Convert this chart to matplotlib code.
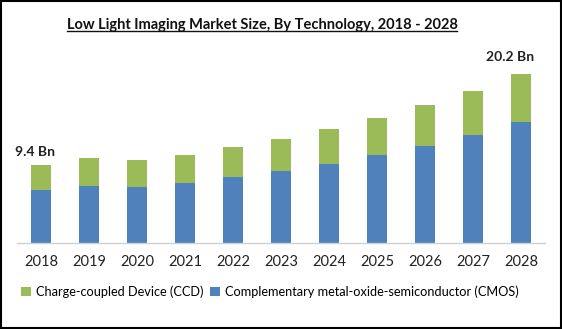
import matplotlib
matplotlib.use("Agg")
import matplotlib.pyplot as plt
from matplotlib.patches import Rectangle
from matplotlib.lines import Line2D

years = ["2018", "2019", "2020", "2021", "2022", "2023", "2024", "2025", "2026", "2027", "2028"]
cmos = [6.3, 6.8, 6.7, 7.2, 7.9, 8.6, 9.5, 10.5, 11.6, 12.9, 14.5]
ccd = [3.1, 3.4, 3.2, 3.3, 3.6, 3.9, 4.2, 4.5, 4.9, 5.3, 5.7]
labels = {0: "9.4 Bn", 10: "20.2 Bn"}

green = "#9BBB59"
blue = "#4F81BD"
plt.rcParams['font.family'] = ['Lato', 'DejaVu Sans']

fig = plt.figure(figsize=(5.62, 3.29), dpi=100)
ax = fig.add_axes([17 / 562, 86 / 329, 528 / 562, 193 / 329])

x = range(len(years))
ax.bar(x, cmos, width=0.4, color=blue, label="Complementary metal-oxide-semiconductor (CMOS)", zorder=2)
ax.bar(x, ccd, width=0.4, bottom=cmos, color=green, label="Charge-coupled Device (CCD)", zorder=2)

ax.set_xlim(-0.5, len(years) - 0.5)
ax.set_ylim(0, 193 / 8.35)
ax.set_xticks(list(x))
ax.set_xticklabels(years, fontsize=10.5, color="#222222")
ax.tick_params(axis="x", length=0, pad=9)
ax.set_yticks([])
for s in ["top", "right", "left"]:
    ax.spines[s].set_visible(False)
ax.spines["bottom"].set_color("#d0d0d0")
ax.spines["bottom"].set_linewidth(1)

offsets = {0: (-4, 5), 10: (-8, 8)}
for i, txt in labels.items():
    tot = cmos[i] + ccd[i]
    ax.annotate(txt, (i, tot), xytext=offsets[i], textcoords="offset points",
                ha="center", va="bottom", fontsize=10, fontweight="bold",
                color="#222222", annotation_clip=False)

h, l = ax.get_legend_handles_labels()
fig.legend(h[::-1], l[::-1], loc="center", bbox_to_anchor=(270 / 562, 1 - 292 / 329),
           ncol=2, frameon=False, fontsize=9.2, handlelength=0.75, handleheight=0.75,
           handletextpad=0.4, columnspacing=0.5, borderpad=0)

title = fig.text(262 / 562, 1 - 25 / 329, "Low Light Imaging Market Size, By Technology, 2018 - 2028",
                 ha="center", va="center", fontsize=10.5, fontweight="bold", color="#111111")
fig.canvas.draw()
bb = title.get_window_extent().transformed(fig.transFigure.inverted())
fig.add_artist(Line2D([bb.x0, bb.x1], [bb.y0 + 0.002, bb.y0 + 0.002], color="#111111",
                      lw=1, transform=fig.transFigure))

fig.add_artist(Rectangle((0.001, 0.002), 0.997, 0.996, transform=fig.transFigure,
                         fill=False, edgecolor="black", lw=1.5))

fig.savefig("out.png", dpi=100)
